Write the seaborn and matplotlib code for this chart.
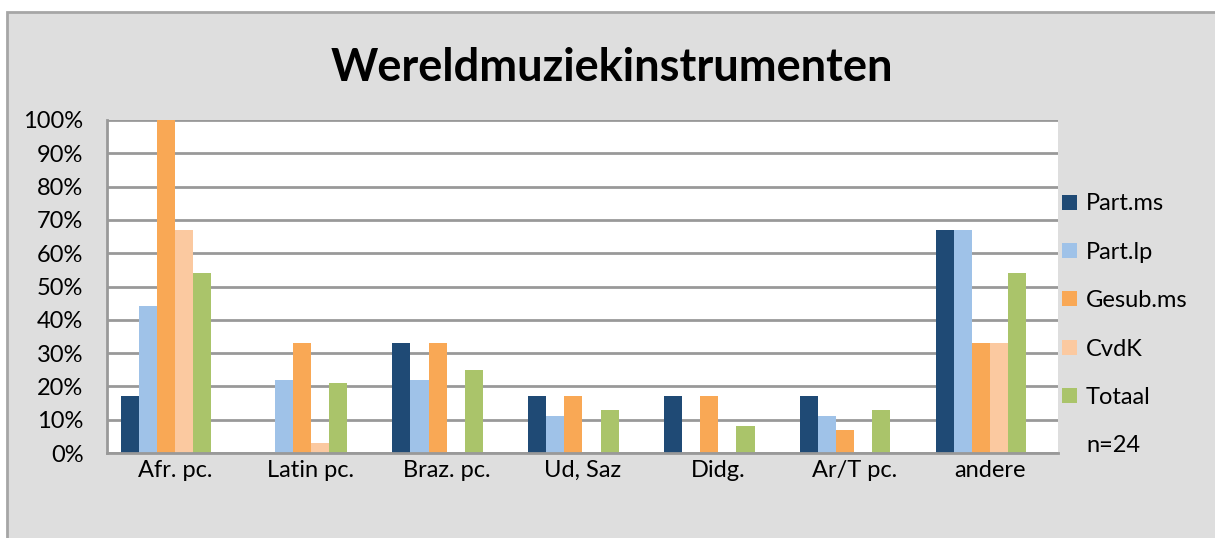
import matplotlib
matplotlib.use("Agg")
import matplotlib.pyplot as plt
import matplotlib.patches as mpatches
import numpy as np
import pandas as pd
import seaborn as sns

categories = ["Afr. pc.", "Latin pc.", "Braz. pc.", "Ud, Saz", "Didg.", "Ar/T pc.", "andere"]
series = ["Part.ms", "Part.lp", "Gesub.ms", "CvdK", "Totaal", "n=24"]
part_ms = [17, 0, 33, 17, 17, 17, 67]
part_lp = [44, 22, 22, 11, 0, 11, 67]
gesub_ms = [100, 33, 33, 17, 17, 7, 33]
cvdk = [67, 3, 0, 0, 0, 0, 33]
totaal = [54, 21, 25, 13, 8, 13, 54]
n24 = [0, 0, 0, 0, 0, 0, 0]
yticks = [0, 10, 20, 30, 40, 50, 60, 70, 80, 90, 100]
colors = ["#1f4a75", "#9fc2e8", "#f9a855", "#fbc9a0", "#aac46a", "#dedede"]

values = [part_ms, part_lp, gesub_ms, cvdk, totaal, n24]
rows = []
for s, vals in zip(series, values):
    for c, v in zip(categories, vals):
        rows.append({"cat": c, "series": s, "value": v})
df = pd.DataFrame(rows)

sns.set_theme(style="white")
plt.rcParams["font.family"] = ["Lato", "DejaVu Sans"]

fig = plt.figure(figsize=(12.15, 5.38), dpi=100)
fig.patch.set_facecolor("white")
W, H = 1215, 538
bg = mpatches.Rectangle((7 / W, -0.1), 1.2, 1.1 - 12 / H, transform=fig.transFigure,
                        facecolor="#dedede", edgecolor="#a6a6a6", linewidth=2, zorder=-10)
fig.patches.append(bg)

ax = fig.add_axes([107 / W, 1 - 453 / H, (1058 - 107) / W, (453 - 120) / H])
ax.set_zorder(1)
ax.set_facecolor("white")
sns.barplot(data=df, x="cat", y="value", hue="series", order=categories,
            hue_order=series, palette=dict(zip(series, colors)), width=0.8,
            linewidth=0, saturation=1, ax=ax, legend=True)

ax.set_ylim(0, 100)
ax.set_xlim(-0.5, len(categories) - 0.5)
ax.set_yticks(yticks)
ax.set_yticklabels([f"{t}%" for t in yticks], fontsize=17, color="black")
ax.set_xticks(range(len(categories)))
ax.set_xticklabels(categories, fontsize=17, color="black")
ax.set_xticks(np.arange(-0.5, len(categories), 1.0), minor=True)
ax.tick_params(axis="x", which="major", length=0, pad=5)
ax.tick_params(axis="x", which="minor", length=7, width=2, color="#999999", direction="out")
ax.tick_params(axis="y", length=7, width=2, color="#999999", direction="out", pad=10)
ax.set_xlabel("")
ax.set_ylabel("")
ax.grid(axis="y", color="#999999", linewidth=2)
ax.set_axisbelow(True)
for side in ["top", "right"]:
    ax.spines[side].set_visible(False)
for side in ["left", "bottom"]:
    ax.spines[side].set_color("#999999")
    ax.spines[side].set_linewidth(2)

handles, labels = ax.get_legend_handles_labels()
ax.get_legend().remove()
for h, l in zip(handles, labels):
    if l == "n=24":
        h.set_alpha(0)
leg = fig.legend(handles, labels, loc="upper left", bbox_to_anchor=(1053 / W, 1 - 184 / H),
                 frameon=False, fontsize=17, handlelength=0.6, handleheight=0.6,
                 handletextpad=0.4, labelspacing=1.16, borderaxespad=0)
for t in leg.get_texts():
    t.set_color("black")

fig.text(612 / W, 1 - 68 / H, "Wereldmuziekinstrumenten", ha="center", va="center",
         fontsize=32.5, fontweight="bold", color="black")

fig.savefig("out.png", dpi=100)
